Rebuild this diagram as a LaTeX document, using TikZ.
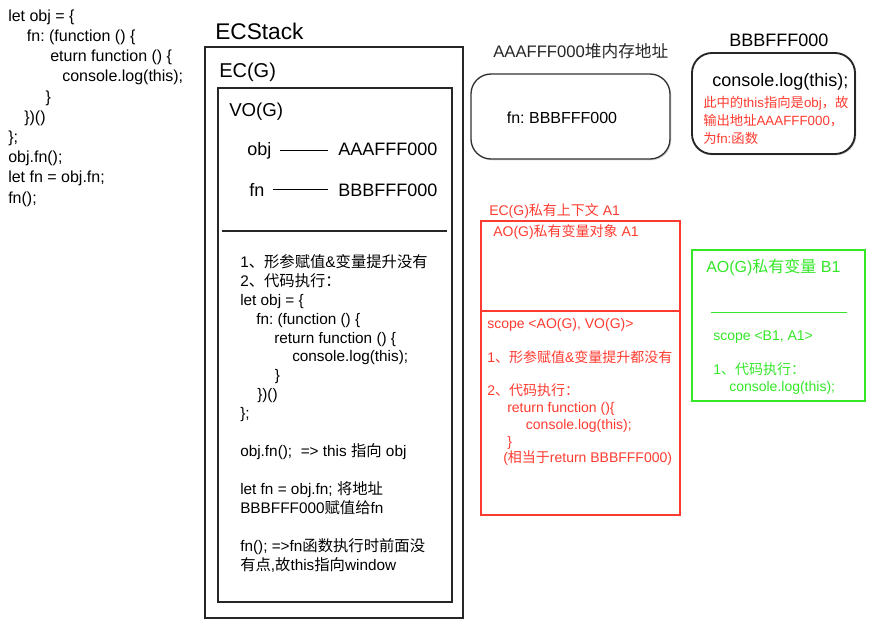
\documentclass[tikz,border=0pt]{standalone}
\usepackage{fontspec}
\setmainfont{Liberation Sans}
\newfontfamily\cjk{Noto Sans CJK SC}
\usepackage{tikz}
\usetikzlibrary{positioning, fit, shadows}
\definecolor{notered}{RGB}{255,59,48}
\definecolor{notegreen}{RGB}{52,232,40}
\newcommand{\zh}[1]{{\cjk #1}}
\frenchspacing

\begin{document}
\begin{tikzpicture}[
  x=0.75pt, y=-0.75pt,
  shade/.style={drop shadow={shadow xshift=1pt, shadow yshift=-1pt, opacity=.3}},
  frame/.style={draw=black!85, line width=1.4pt, fill=white, inner sep=0pt, shade},
  heapbox/.style={draw=black!80, line width=1pt, fill=white, inner sep=0pt,
                  rounded corners=15pt, shade},
  redbox/.style={draw=notered, line width=0.9pt, fill=white, inner sep=0pt, shade},
  greenbox/.style={draw=notegreen, line width=1pt, fill=white, inner sep=0pt, shade},
  lbl/.style={inner sep=0pt, anchor=base west},
  code/.style={inner sep=0pt, anchor=north west, align=left},
  link/.style={line width=0.9pt, shorten <=6pt, shorten >=7.5pt},
]
  \useasboundingbox (0,0) rectangle (876,633);

  \node[code, font=\fontsize{12}{15.15}\selectfont] (src) at (8,9.5)
    {let obj = \{\\
     \hspace*{14pt}fn: (function () \{\\
     \hspace*{31.5pt}eturn function () \{\\
     \hspace*{40.5pt}console.log(this);\\
     \hspace*{28pt}\}\\
     \hspace*{12pt}\})()\\
     \};\\
     obj.fn();\\
     let fn = obj.fn;\\
     fn();};

  \node[frame, fit={(205,47) (463,618)}] (ecstack) {};
  \node[lbl, font=\fontsize{17}{20}\selectfont] (ecstacklbl) at (215,39) {ECStack};
  \node[frame, fit={(218,88) (452,602)}] (ecg) {};
  \node[lbl, font=\fontsize{15}{18}\selectfont] (ecglbl) at (219,77) {EC(G)};
  \node[lbl, font=\fontsize{14}{17}\selectfont] (voglbl) at (229,116.5) {VO(G)};

  \node[lbl, font=\fontsize{13.5}{16}\selectfont] (obj) at (247,155.5) {obj};
  \node[lbl, font=\fontsize{13.5}{16}\selectfont] (objaddr) at (338,155.5) {AAAFFF000};
  \node[lbl, font=\fontsize{13.5}{16}\selectfont] (fn) at (249,196) {fn};
  \node[lbl, font=\fontsize{13.5}{16}\selectfont] (fnaddr) at (338,196) {BBBFFF000};
  \draw[link] (obj.east) -- (obj.east -| objaddr.west);
  \draw[link] (fn.east) -- (fn.east -| fnaddr.west);
  \draw[line width=1.4pt, black!85] (222,231) -- (447,231);

  \node[code, font=\fontsize{11.5}{14.2}\selectfont] (gsteps) at (240,254)
    {1\zh{、形参赋值}\&\zh{变量提升没有}\\
     2\zh{、代码执行：}\\
     let obj = \{\\
     \hspace*{12pt}fn: (function () \{\\
     \hspace*{25.5pt}return function () \{\\
     \hspace*{39pt}console.log(this);\\
     \hspace*{26pt}\}\\
     \hspace*{12.75pt}\})()\\
     \};\\
     \\
     obj.fn();\ \ => this \zh{指向} obj\\
     \\
     let fn = obj.fn; \zh{将地址}\\
     BBBFFF000\zh{赋值给}fn\\
     \\
     fn(); =>fn\zh{函数执行时前面没}\\
     \zh{有点}{,}\zh{故}this\zh{指向}window};

  \node[lbl, font=\fontsize{12.5}{15}\selectfont, text=black!85] (heaplbl) at (493,57)
    {AAAFFF000\zh{堆内存地址}};
  \node[heapbox, fit={(471,74) (670,159)}] (heap) {};
  \node[inner sep=0pt, anchor=base, font=\fontsize{12}{14}\selectfont] (heapfn) at (562,123)
    {fn: BBBFFF000};

  \node[lbl, font=\fontsize{13.5}{16}\selectfont] (funclbl) at (729,46.5) {BBBFFF000};
  \node[frame, rounded corners=15pt, fit={(692,53) (855,154)}] (func) {};
  \node[lbl, font=\fontsize{13.5}{16}\selectfont] (funcbody) at (712,86) {console.log(this);};
  \node[code, text=notered, font=\fontsize{10}{13.5}\selectfont] (funcnote) at (703,96)
    {\zh{此中的}this\zh{指向是}obj\zh{，故}\\
     \zh{输出地址}AAAFFF000\zh{，}\\
     \zh{为}fn:\zh{函数}};

  \node[lbl, text=notered, font=\fontsize{10.5}{13}\selectfont] (ecalbl) at (489,215)
    {EC(G)\zh{私有上下文} A1};
  \node[redbox, fit={(481,221) (680,515)}] (eca) {};
  \draw[notered, line width=0.9pt] (481,311) -- (680,311);
  \node[lbl, text=notered, font=\fontsize{10.5}{13}\selectfont] (aoalbl) at (493,236)
    {AO(G)\zh{私有变量对象} A1};
  \node[code, text=notered, font=\fontsize{10.5}{12.6}\selectfont] (ecasteps) at (487,318)
    {scope <AO(G), VO(G)>\\
     \\
     1\zh{、形参赋值}\&\zh{变量提升都没有}\\
     \\
     2\zh{、代码执行：}\\
     \hspace*{15pt}return function ()\{\\
     \hspace*{29pt}console.log(this);\\
     \hspace*{15pt}\}\\
     \hspace*{12pt}(\zh{相当于}return BBBFFF000)};

  \node[greenbox, fit={(692,250) (865,401)}] (aob) {};
  \node[lbl, text=notegreen, font=\fontsize{12}{14}\selectfont] (aoblbl) at (706,272)
    {AO(G)\zh{私有变量} B1};
  \draw[notegreen, line width=0.6pt, shade] (711,312) -- (847,312);
  \node[code, text=notegreen, font=\fontsize{10.5}{12.75}\selectfont] (aobsteps) at (713,331)
    {scope <B1, A1>\\
     \\
     1\zh{、代码执行：}\\
     \hspace*{12pt}console.log(this);};
\end{tikzpicture}
\end{document}
